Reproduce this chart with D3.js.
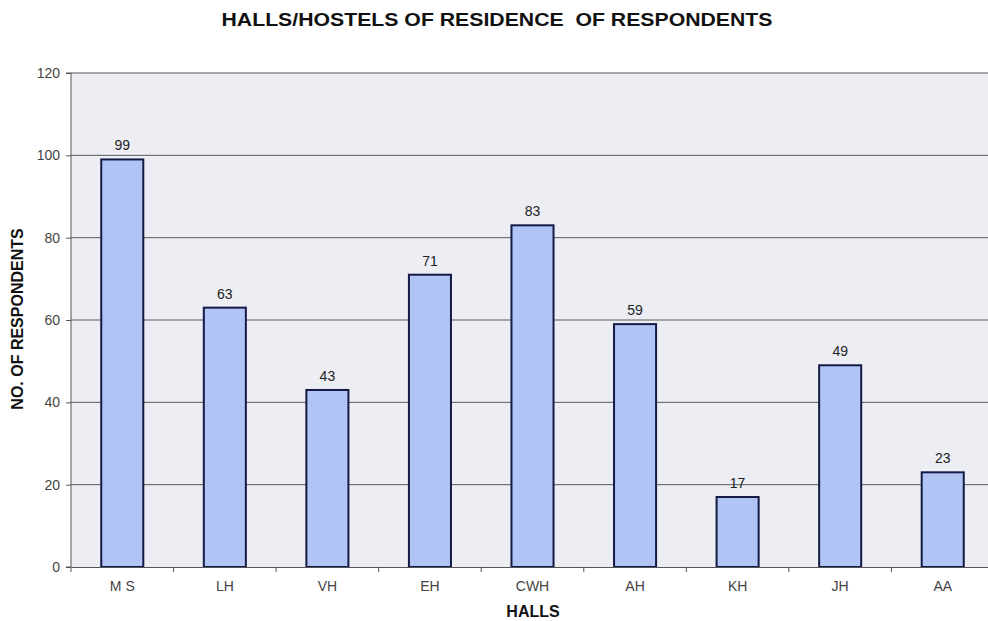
<!DOCTYPE html>
<html>
<head>
<meta charset="utf-8">
<script src="https://cdn.jsdelivr.net/npm/d3@7"></script>
<style>
  html, body { margin: 0; padding: 0; background: #fff; overflow: hidden; }
  svg { display: block; }
</style>
</head>
<body>
<svg id="chart" width="988" height="621"></svg>
<script>
// Halls / hostels and number of respondents living in each
const halls = ["M S", "LH", "VH", "EH", "CWH", "AH", "KH", "JH", "AA"];
const respondents = [99, 63, 43, 71, 83, 59, 17, 49, 23];
const yTicks = [0, 20, 40, 60, 80, 100, 120];

const svg = d3.select("#chart");
const margin = { left: 71, top: 73 };
const plotW = 923, plotH = 494;
const font = "Liberation Sans, Arial, sans-serif";

const x = d3.scaleBand().domain(halls).range([0, plotW]).paddingInner(0).paddingOuter(0);
const y = d3.scaleLinear().domain([0, 120]).range([plotH, 0]);

const g = svg.append("g").attr("transform", `translate(${margin.left},${margin.top})`);

// plot background
g.append("rect")
  .attr("x", 0).attr("y", 0).attr("width", plotW).attr("height", plotH)
  .attr("fill", "#eceef4");

// horizontal gridlines
g.selectAll("line.grid").data(yTicks.filter(d => d > 0)).join("line")
  .attr("class", "grid")
  .attr("x1", 0).attr("x2", plotW)
  .attr("y1", d => y(d)).attr("y2", d => y(d))
  .attr("stroke", "#5a5a5a").attr("stroke-width", 1);

// bars
const barW = x.bandwidth() * 0.41;
g.selectAll("rect.bar").data(halls).join("rect")
  .attr("class", "bar")
  .attr("x", d => x(d) + (x.bandwidth() - barW) / 2)
  .attr("width", barW)
  .attr("y", (d, i) => y(respondents[i]))
  .attr("height", (d, i) => plotH - y(respondents[i]))
  .attr("fill", "#b0c4f6")
  .attr("stroke", "#151a45").attr("stroke-width", 2);

// value labels
g.selectAll("text.val").data(halls).join("text")
  .attr("class", "val")
  .attr("x", d => x(d) + x.bandwidth() / 2)
  .attr("y", (d, i) => y(respondents[i]) - 9)
  .attr("text-anchor", "middle")
  .attr("font-family", font)
  .attr("font-size", 14)
  .attr("fill", "#222")
  .text((d, i) => respondents[i]);

// y axis
const yAxis = g.append("g")
  .call(d3.axisLeft(y).tickValues(yTicks).tickSize(5).tickPadding(6));
yAxis.select(".domain").attr("stroke", "#555").attr("d", `M-5,0H0V${plotH}H-5`);
yAxis.selectAll(".tick line").attr("stroke", "#555");
yAxis.selectAll("text")
  .attr("font-family", font)
  .attr("font-size", 14).attr("fill", "#444");

// x axis
const xAxis = g.append("g").attr("transform", `translate(0,${plotH})`)
  .call(d3.axisBottom(x).tickSize(0).tickPadding(14));
xAxis.select(".domain").attr("stroke", "#555");
xAxis.selectAll("text")
  .attr("font-family", font)
  .attr("font-size", 14).attr("fill", "#444");
// category separator ticks
xAxis.selectAll("line.sep").data(halls).join("line")
  .attr("class", "sep")
  .attr("x1", d => x(d)).attr("x2", d => x(d))
  .attr("y1", 0).attr("y2", 5)
  .attr("stroke", "#555");

// titles
svg.append("text")
  .attr("x", 497).attr("y", 26)
  .attr("text-anchor", "middle")
  .attr("font-family", font)
  .attr("font-weight", "bold").attr("font-size", 18).attr("fill", "#111")
  .attr("textLength", 551).attr("lengthAdjust", "spacingAndGlyphs")
  .style("white-space", "pre")
  .text("HALLS/HOSTELS OF RESIDENCE  OF RESPONDENTS");

svg.append("text")
  .attr("x", 533).attr("y", 617)
  .attr("text-anchor", "middle")
  .attr("font-family", font)
  .attr("font-weight", "bold").attr("font-size", 16).attr("fill", "#111")
  .text("HALLS");

svg.append("text")
  .attr("transform", "translate(23,319) rotate(-90)")
  .attr("text-anchor", "middle")
  .attr("font-family", font)
  .attr("font-weight", "bold").attr("font-size", 16).attr("fill", "#111")
  .text("NO. OF RESPONDENTS");
</script>
</body>
</html>
